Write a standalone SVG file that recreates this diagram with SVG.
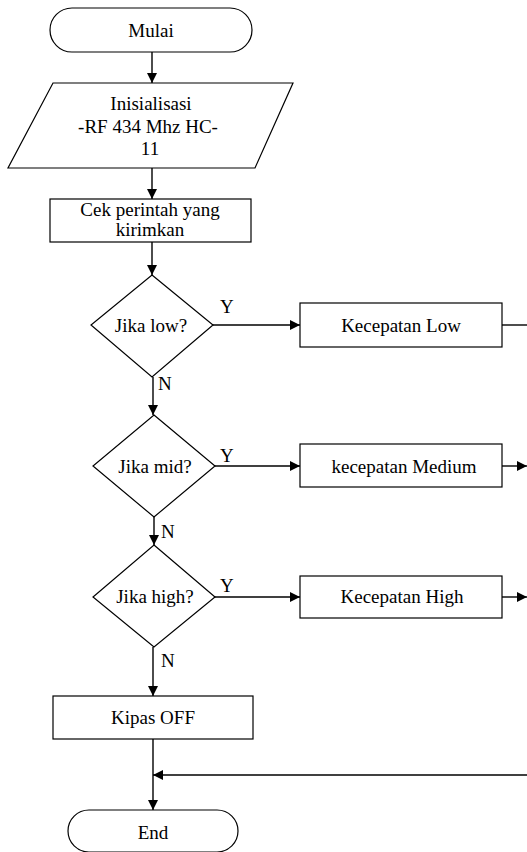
<svg xmlns="http://www.w3.org/2000/svg" width="527" height="852" viewBox="0 0 527 852">
<style>
.s{fill:#fff;stroke:#000;stroke-width:1.2}
.c{fill:none;stroke:#000;stroke-width:1.4}
text{font-family:'Liberation Serif','Tinos','DejaVu Serif',serif;font-size:19px;fill:#000}
.m{text-anchor:middle}
</style>
<defs>
<marker id="ah" markerUnits="userSpaceOnUse" markerWidth="10" markerHeight="10" refX="10" refY="5" orient="auto">
<path d="M0,0 L10,5 L0,10 z" fill="#000"/>
</marker>
</defs>
<rect width="527" height="852" fill="#fff"/>
<g id="connectors">
<line class="c" x1="152" y1="52" x2="152" y2="83" marker-end="url(#ah)"/>
<line class="c" x1="152" y1="168" x2="152" y2="199" marker-end="url(#ah)"/>
<line class="c" x1="152" y1="242" x2="152" y2="275" marker-end="url(#ah)"/>
<line class="c" x1="213" y1="325" x2="300" y2="325" marker-end="url(#ah)"/>
<line class="c" x1="502" y1="325" x2="527" y2="325"/>
<line class="c" x1="153" y1="377" x2="153" y2="415" marker-end="url(#ah)"/>
<line class="c" x1="215" y1="466" x2="300" y2="466" marker-end="url(#ah)"/>
<line class="c" x1="502" y1="466" x2="527" y2="466" marker-end="url(#ah)"/>
<line class="c" x1="154" y1="517" x2="154" y2="545" marker-end="url(#ah)"/>
<line class="c" x1="215" y1="597" x2="300" y2="597" marker-end="url(#ah)"/>
<line class="c" x1="502" y1="597" x2="527" y2="597" marker-end="url(#ah)"/>
<line class="c" x1="153" y1="647" x2="153" y2="696" marker-end="url(#ah)"/>
<line class="c" x1="153" y1="739" x2="153" y2="810" marker-end="url(#ah)"/>
<line class="c" x1="527" y1="775" x2="153" y2="775" marker-end="url(#ah)"/>
<text x="220" y="313">Y</text>
<text x="158" y="390">N</text>
<text x="220" y="462">Y</text>
<text x="161" y="538">N</text>
<text x="220" y="592">Y</text>
<text x="161" y="667">N</text>
</g>
<g id="mulai">
<rect class="s" x="50" y="8" width="202" height="44" rx="22"/>
<text class="m" x="151" y="37">Mulai</text>
</g>
<g id="inisialisasi">
<polygon class="s" points="53,83 293,83 255,168 8,168"/>
<text class="m" x="151" y="110">Inisialisasi</text>
<text class="m" x="148" y="133">-RF 434 Mhz HC-</text>
<text class="m" x="150" y="155">11</text>
</g>
<g id="cek">
<rect class="s" x="50" y="199" width="201" height="43"/>
<text class="m" x="150" y="216">Cek perintah yang</text>
<text class="m" x="150" y="236">kirimkan</text>
</g>
<g id="d-low">
<polygon class="s" points="152,275 213,325 152,377 91,325"/>
<text class="m" x="151" y="332">Jika low?</text>
</g>
<g id="k-low">
<rect class="s" x="300" y="303" width="202" height="44"/>
<text class="m" x="401" y="332">Kecepatan Low</text>
</g>
<g id="d-mid">
<polygon class="s" points="154,415 215,466 154,517 93,466"/>
<text class="m" x="155" y="473">Jika mid?</text>
</g>
<g id="k-mid">
<rect class="s" x="300" y="444" width="202" height="43"/>
<text class="m" x="404" y="473">kecepatan Medium</text>
</g>
<g id="d-high">
<polygon class="s" points="154,545 215,597 154,647 93,597"/>
<text class="m" x="155" y="603">Jika high?</text>
</g>
<g id="k-high">
<rect class="s" x="300" y="576" width="202" height="42"/>
<text class="m" x="402" y="603">Kecepatan High</text>
</g>
<g id="kipas">
<rect class="s" x="53" y="696" width="200" height="43"/>
<text class="m" x="153" y="724">Kipas OFF</text>
</g>
<g id="end">
<rect class="s" x="68" y="810" width="170" height="42" rx="21"/>
<text class="m" x="153" y="839">End</text>
</g>
</svg>
